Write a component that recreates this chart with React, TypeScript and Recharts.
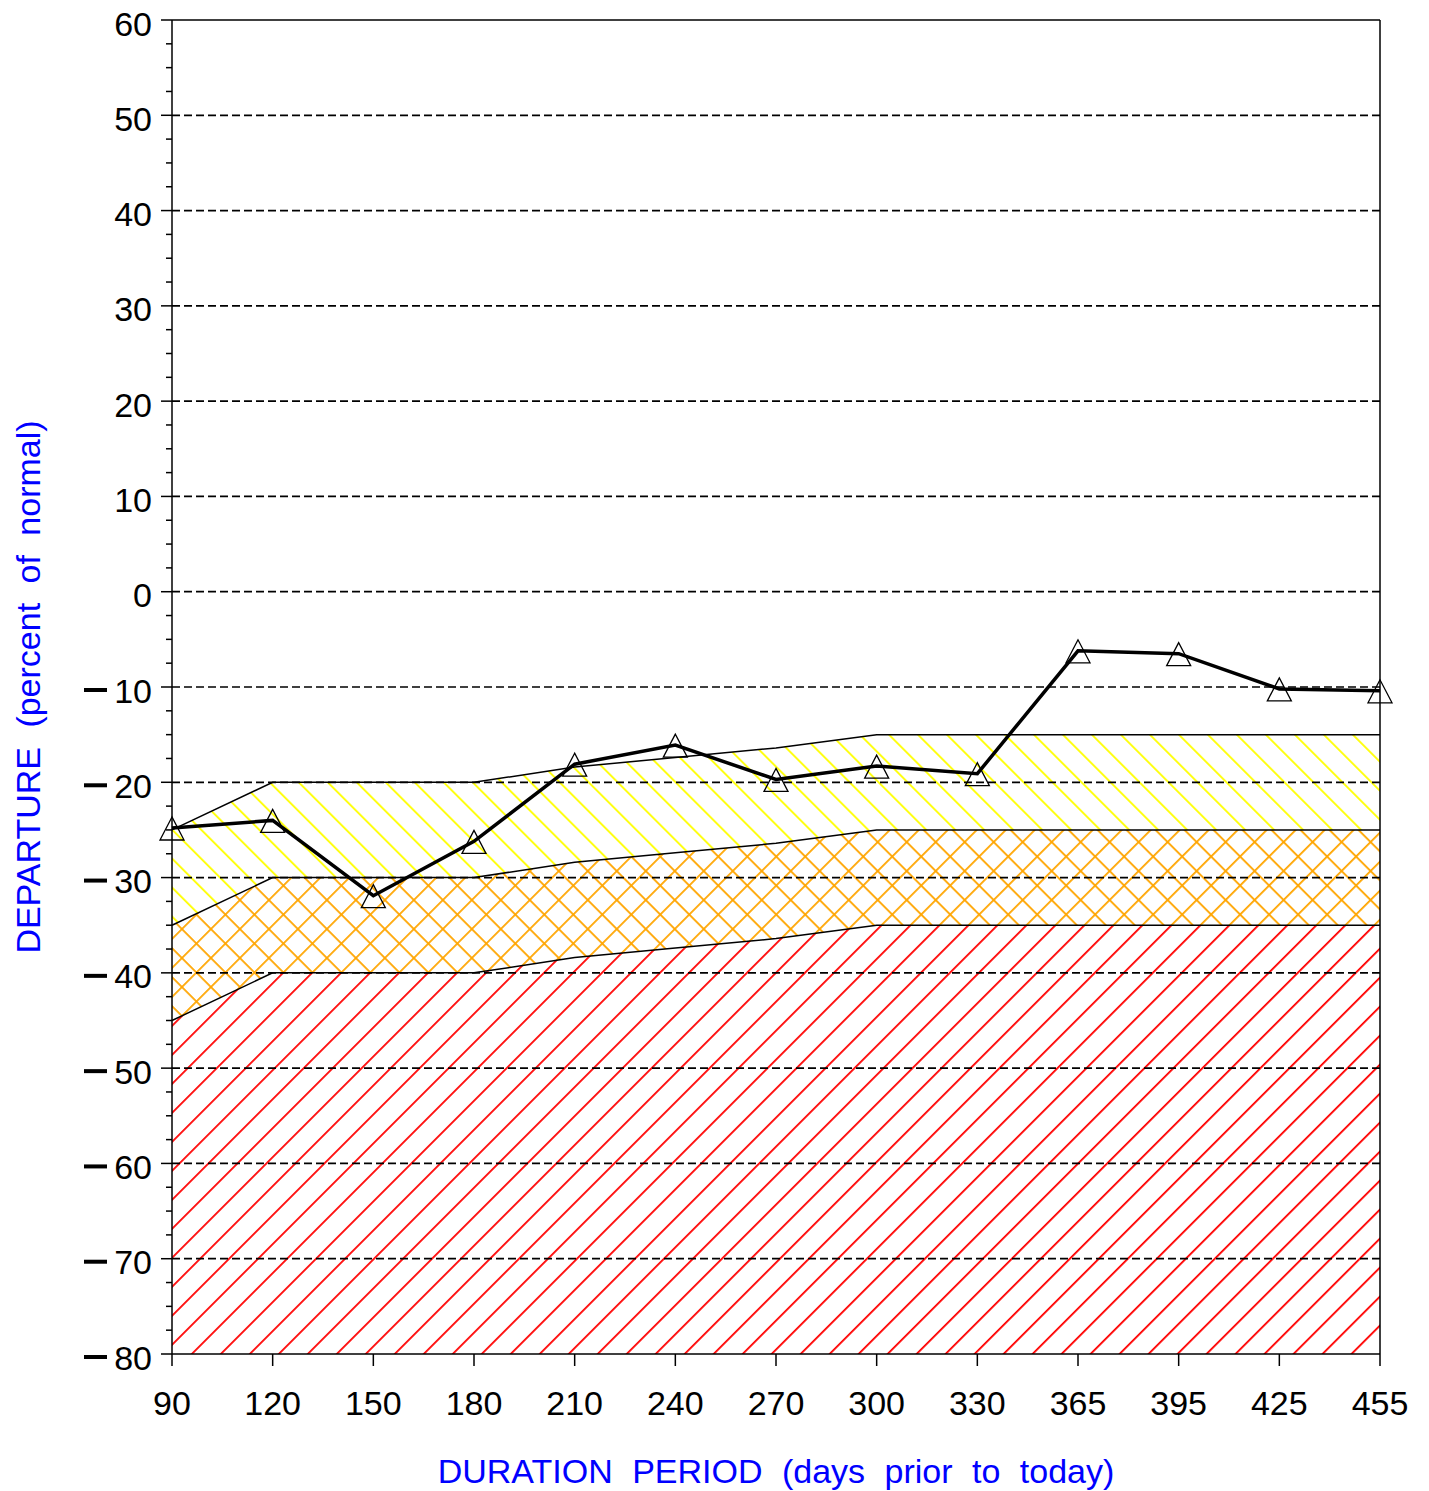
import React from 'react';
import { ComposedChart, Area, Line, XAxis, YAxis, ReferenceLine } from 'recharts';

// duration periods (days prior to today)
const days = ['90', '120', '150', '180', '210', '240', '270', '300', '330', '365', '395', '425', '455'];
// departure from normal (%)
const departure = [-24.8, -24.0, -31.9, -26.2, -18.1, -16.1, -19.7, -18.3, -19.1, -6.2, -6.5, -10.2, -10.4];
// drought category thresholds
const upperBound = [-25, -20, -20, -20, -18.4, -17.4, -16.4, -15, -15, -15, -15, -15, -15];
const middleBound = [-35, -30, -30, -30, -28.4, -27.4, -26.4, -25, -25, -25, -25, -25, -25];
const lowerBound = [-45, -40, -40, -40, -38.4, -37.4, -36.4, -35, -35, -35, -35, -35, -35];

const yMajor = [60, 50, 40, 30, 20, 10, 0, -10, -20, -30, -40, -50, -60, -70, -80];
const gridValues = [50, 40, 30, 20, 10, 0, -10, -20, -30, -40, -50, -60, -70];
const yTicks = Array.from({ length: 57 }, (_, i) => 60 - i * 2.5);

const data = days.map((d, i) => ({
  day: d,
  dep: departure[i],
  upper: upperBound[i],
  middle: middleBound[i],
  lower: lowerBound[i],
}));

const FONT = '"Liberation Sans", Arial, sans-serif';

// the plot's minus sign is a long heavy dash, drawn as a line next to the digits
const YTick = (props: any) => {
  const { x, y, payload } = props;
  const v = payload.value;
  const major = yMajor.includes(v);
  return (
    <g>
      <line x1={x - (major ? 11 : 6)} x2={x} y1={y} y2={y} stroke="#000" strokeWidth={1.5} />
      {major && v < 0 && <line x1={x - 88} x2={x - 65} y1={y + 3} y2={y + 3} stroke="#000" strokeWidth={4} />}
      {major && (
        <text x={x - 20} y={y + 15.5} textAnchor="end" fontFamily={FONT} fontSize={34} fill="#000">
          {Math.abs(v)}
        </text>
      )}
    </g>
  );
};

const XTick = (props: any) => {
  const { x, y, payload } = props;
  return (
    <text x={x} y={y + 49} textAnchor="middle" fontFamily={FONT} fontSize={34} fill="#000">
      {payload.value}
    </text>
  );
};

const Triangle = (props: any) => {
  const { cx, cy, index } = props;
  if (cx == null || cy == null) return <g key={index} />;
  return (
    <polygon
      key={index}
      points={`${cx},${cy - 11} ${cx - 12},${cy + 12} ${cx + 12},${cy + 12}`}
      fill="none"
      stroke="#000"
      strokeWidth={1.3}
    />
  );
};

export default function App() {
  return (
    <div style={{ width: 1421, height: 1491, marginTop: -8 }}>
      <ComposedChart
        width={1421}
        height={1491}
        data={data}
        margin={{ top: 20, right: 49, bottom: 107, left: 0 }}
      >
        <defs>
          <pattern id="hatchYellow" patternUnits="userSpaceOnUse" width={20.5} height={20.5} patternTransform="rotate(-45)">
            <rect x={0} y={0} width={1.8} height={20.5} fill="#ffff00" />
          </pattern>
          <pattern id="hatchOrange" patternUnits="userSpaceOnUse" width={20.5} height={20.5} patternTransform="rotate(45)">
            <rect x={0} y={0} width={1.8} height={20.5} fill="#ffa500" />
            <rect x={0} y={0} width={20.5} height={1.8} fill="#ffa500" />
          </pattern>
          <pattern id="hatchRed" patternUnits="userSpaceOnUse" width={20.5} height={20.5} patternTransform="rotate(45)">
            <rect x={0} y={0} width={1.8} height={20.5} fill="#ff0000" />
          </pattern>
        </defs>
        <XAxis
          dataKey="day"
          scale="point"
          height={30}
          padding={{ left: 0, right: 0 }}
          axisLine={{ stroke: '#000', strokeWidth: 1.5 }}
          tickLine={{ stroke: '#000', strokeWidth: 1.5 }}
          tickSize={12}
          tickMargin={0}
          tick={<XTick />}
          interval={0}
          label={{
            content: () => (
              <text
                x={768}
                y={1483}
                textAnchor="middle"
                fontFamily={FONT}
                fontSize={34}
                fill="#0000ff"
                style={{ wordSpacing: 10 }}
              >
                DURATION PERIOD (days prior to today)
              </text>
            ),
          }}
        />
        <YAxis
          type="number"
          domain={[-80, 60]}
          ticks={yTicks}
          interval={0}
          width={164}
          axisLine={{ stroke: '#000', strokeWidth: 1.5 }}
          tickLine={false}
          tickSize={0}
          tickMargin={0}
          tick={<YTick />}
          allowDataOverflow
          label={{
            content: () => (
              <text
                x={32}
                y={687}
                transform="rotate(-90 32 687)"
                textAnchor="middle"
                fontFamily={FONT}
                fontSize={34}
                fill="#0000ff"
                style={{ wordSpacing: 10 }}
              >
                DEPARTURE (percent of normal)
              </text>
            ),
          }}
        />
        <Area
          dataKey={(d: any) => [-80, d.lower]}
          fill="url(#hatchRed)"
          fillOpacity={1}
          stroke="none"
          isAnimationActive={false}
        />
        <Area
          dataKey={(d: any) => [d.lower, d.middle]}
          fill="url(#hatchOrange)"
          fillOpacity={1}
          stroke="none"
          isAnimationActive={false}
        />
        <Area
          dataKey={(d: any) => [d.middle, d.upper]}
          fill="url(#hatchYellow)"
          fillOpacity={1}
          stroke="none"
          isAnimationActive={false}
        />
        {gridValues.map((v) => (
          <ReferenceLine key={v} y={v} stroke="#000" strokeWidth={1.7} strokeDasharray="8 4" />
        ))}
        <ReferenceLine y={60} stroke="#000" strokeWidth={1.5} />
        <ReferenceLine x="455" stroke="#000" strokeWidth={1.5} />
        <Line dataKey="upper" stroke="#000" strokeWidth={1.5} dot={false} isAnimationActive={false} />
        <Line dataKey="middle" stroke="#000" strokeWidth={1.5} dot={false} isAnimationActive={false} />
        <Line dataKey="lower" stroke="#000" strokeWidth={1.5} dot={false} isAnimationActive={false} />
        <Line
          dataKey="dep"
          stroke="#000"
          strokeWidth={3.5}
          dot={<Triangle />}
          isAnimationActive={false}
        />
      </ComposedChart>
    </div>
  );
}
